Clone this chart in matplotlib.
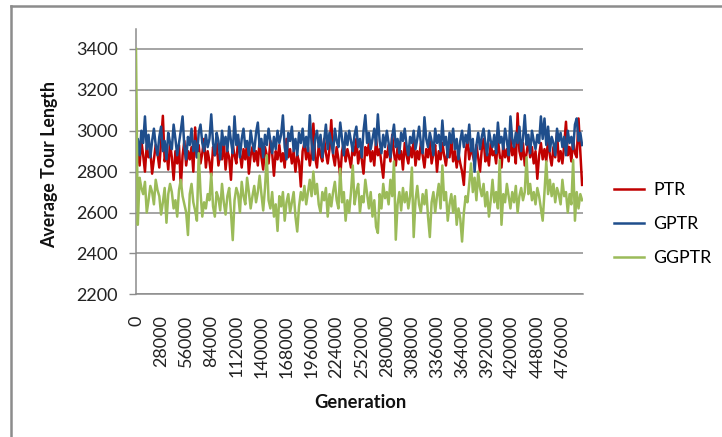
import matplotlib
matplotlib.use("Agg")
import matplotlib.pyplot as plt
from matplotlib.lines import Line2D

# Generation at which each average was recorded
generation = list(range(0, 500000, 2000))

# Average tour length per recorded generation
ptr = [
    2850, 2910, 2830, 2950, 2880, 2800, 2930, 2870, 2900, 2790,
    2860, 2930, 2890, 2820, 2950, 3073, 2850, 2900, 2810, 2940,
    2870, 2760, 2900, 2840, 2930, 2725, 2880, 2950, 2830, 2900,
    2860, 2920, 2800, 3016, 2870, 2930, 2840, 2890, 2960, 2820,
    2900, 2850, 2780, 2920, 2880, 2940, 2830, 2890, 2860, 2950,
    2810, 2900, 2870, 2760, 2930, 2880, 2840, 2960, 2890, 2820,
    2910, 2860, 2940, 2790, 2880, 2920, 2850, 2900, 2830, 2960,
    2870, 2810, 2920, 2880, 2840, 2950, 2890, 2780, 2900, 2860,
    2930, 2850, 2890, 2820, 2960, 2870, 2910, 2840, 2900, 2800,
    2880, 2850, 2727, 2900, 2940, 2860, 2920, 2830, 2890, 3035,
    2870, 2820, 2930, 2880, 2850, 2960, 2890, 2840, 2910, 3052,
    2880, 2830, 2920, 2860, 2775, 2900, 2940, 2850, 2910, 2870,
    2820, 2930, 2880, 2960, 2840, 2900, 2860, 2790, 2920, 2880,
    2940, 2850, 2900, 2830, 2960, 2880, 2910, 2840, 2770, 2900,
    2870, 2930, 2850, 2980, 2890, 2830, 2920, 2860, 2900, 2810,
    2940, 2880, 2840, 2920, 2870, 2960, 2830, 2900, 2860, 2940,
    2880, 2820, 2910, 2870, 2950, 2840, 2890, 2930, 2800, 2900,
    2860, 2940, 2880, 2830, 2910, 2870, 2960, 2850, 2900, 2820,
    2890, 2840, 2800, 2735, 2900, 2950, 2860, 2920, 2880, 2840,
    2930, 2870, 2800, 2910, 2960, 2850, 2890, 2830, 2940, 2880,
    2900, 2840, 2960, 2880, 2820, 2930, 2870, 2910, 2850, 2980,
    2880, 2920, 2840, 3085, 2900, 2860, 2940, 2830, 2890, 2950,
    2870, 2920, 2840, 2900, 2765, 2880, 2940, 2860, 2910, 2850,
    2960, 2880, 2830, 2920, 2870, 2990, 2850, 2900, 2840, 2930,
    3044, 2880, 2920, 2850, 2960, 2890, 2870, 3060, 2900, 2735,
]

gptr = [
    2900, 2960, 2880, 3000, 2940, 3070, 2910, 2980, 2870, 2950,
    3010, 2930, 2880, 2970, 3020, 2900, 2950, 2860, 2990, 2940,
    2910, 3030, 2960, 2880, 2940, 3000, 3070, 2920, 2860, 2970,
    2930, 3010, 2900, 2950, 2870, 2990, 3030, 2940, 2900, 2980,
    2920, 2960, 3080, 2940, 2880, 2990, 2950, 2860, 3000, 2930,
    2970, 2900, 3020, 2950, 2890, 3070, 2930, 2980, 2870, 2960,
    3010, 2920, 2950, 2880, 3000, 2940, 2900, 2990, 3040, 2920,
    2960, 2870, 2980, 2930, 3010, 2950, 2890, 2970, 2910, 3000,
    2940, 2980, 3075, 2920, 2860, 2990, 2950, 3020, 2900, 2960,
    2880, 2990, 2940, 3010, 2920, 2970, 2900, 3076, 2940, 2857,
    2960, 3000, 2920, 2980, 2870, 2950, 3030, 2910, 2990, 2940,
    2890, 3010, 2950, 2920, 3040, 2960, 2880, 2990, 2930, 3000,
    2950, 2900, 2980, 3020, 2920, 2960, 2870, 3000, 3076, 2940,
    2990, 2910, 2960, 3010, 2930, 3080, 2950, 2890, 2980, 2920,
    3000, 2940, 2870, 2970, 3030, 2920, 2960, 2890, 2990, 2950,
    3010, 2930, 2880, 2970, 2940, 3000, 2910, 2960, 3020, 2940,
    2890, 3066, 2960, 2920, 2990, 2950, 2880, 3010, 2940, 2980,
    2900, 3050, 2930, 2970, 2870, 2990, 2940, 3010, 2910, 2960,
    2860, 2950, 3000, 2920, 2980, 2940, 3030, 2900, 2960, 2800,
    2930, 2990, 2910, 2970, 3010, 2940, 2880, 3000, 2950, 2920,
    2980, 2890, 3040, 2940, 2970, 2910, 3010, 2950, 2880, 3070,
    2960, 2920, 2990, 2940, 3020, 2900, 2960, 3076, 2930, 2980,
    2890, 3000, 2950, 2910, 2980, 2940, 3070, 2960, 3060, 2930,
    3020, 2900, 2970, 2940, 2880, 3010, 2950, 2990, 2920, 2970,
    2880, 3000, 2940, 2970, 2910, 3030, 3060, 2950, 2990, 2930,
]

ggptr = [
    3400, 2540, 2770, 2720, 2690, 2750, 2600, 2660, 2730, 2700,
    2640, 2760, 2710, 2680, 2590, 2650, 2720, 2550, 2690, 2740,
    2700, 2620, 2660, 2580, 2710, 2760, 2680, 2640, 2600, 2490,
    2690, 2740, 2650, 2610, 2560, 2890, 2700, 2580, 2650, 2620,
    2690, 2660, 2790, 2630, 2580, 2700, 2670, 2610, 2740, 2650,
    2590, 2680, 2720, 2600, 2465, 2660, 2720, 2690, 2600, 2750,
    2680, 2640, 2770, 2700, 2620, 2680, 2730, 2650, 2700, 2780,
    2690, 2610, 2720, 2880, 2660, 2620, 2700, 2580, 2640, 2510,
    2680, 2630, 2700, 2560, 2650, 2690, 2600, 2650, 2700, 2580,
    2507, 2630, 2700, 2660, 2730, 2640, 2700, 2760, 2680, 2800,
    2690, 2740, 2640, 2600, 2700, 2660, 2720, 2580, 2690, 2630,
    2700, 2750, 2660, 2620, 2815, 2650, 2700, 2560, 2660, 2600,
    2700, 2830, 2640, 2700, 2740, 2600, 2680, 2650, 2760, 2690,
    2620, 2700, 2580, 2660, 2530, 2500, 2690, 2620, 2740, 2670,
    2700, 2640, 2760, 2680, 2850, 2467, 2640, 2700, 2610, 2720,
    2650, 2700, 2620, 2680, 2820, 2480, 2660, 2730, 2640, 2600,
    2690, 2640, 2710, 2580, 2480, 2650, 2700, 2600, 2680, 2740,
    2620, 2830, 2660, 2700, 2560, 2640, 2690, 2600, 2680, 2540,
    2620, 2570, 2458, 2600, 2680, 2650, 2740, 2840, 2700, 2770,
    2660, 2800, 2720, 2680, 2740, 2630, 2700, 2580, 2660, 2760,
    2650, 2700, 2620, 2857, 2540, 2690, 2650, 2740, 2680, 2620,
    2700, 2650, 2730, 2600, 2680, 2720, 2660, 2700, 2870, 2690,
    2740, 2660, 2700, 2640, 2720, 2680, 2620, 2560, 2700, 2850,
    2690, 2760, 2680, 2740, 2650, 2720, 2690, 2640, 2760, 2680,
    2700, 2600, 2690, 2640, 2857, 2560, 2700, 2620, 2690, 2660,
]

y_ticks = [2200, 2400, 2600, 2800, 3000, 3200, 3400]
x_ticks = list(range(0, 476001, 28000))

plt.rcParams['font.family'] = ['Lato', 'DejaVu Sans']

W, H = 722, 437
fig = plt.figure(figsize=(W / 100, H / 100), dpi=100)
fig.patch.set_facecolor('white')

# plot area in pixel terms: x 136..583, y 28.5..294.3 (from top)
ax = fig.add_axes([136 / W, 1 - 294.3 / H, 447 / W, (294.3 - 28.5) / H])

ax.plot(generation, ptr, color='#C00000', lw=1.8, label='PTR', zorder=3)
ax.plot(generation, gptr, color='#1F4E8C', lw=1.8, label='GPTR', zorder=4)
ax.plot(generation, ggptr, color='#9BBB59', lw=1.8, label='GGPTR', zorder=5)

ax.set_xlim(0, 499000)
ax.set_ylim(2200, 3500)

grid_col = '#8C8C8C'
ax.set_yticks(y_ticks)
ax.set_yticklabels([str(v) for v in y_ticks], fontsize=13, color='#222222')
ax.yaxis.grid(True, color=grid_col, lw=1.1, zorder=0)
ax.set_axisbelow(True)

ax.set_xticks(x_ticks)
ax.set_xticklabels([str(v) for v in x_ticks], rotation=90, fontsize=13,
                   color='#222222', va='top', ha='center')

ax.tick_params(axis='x', length=0, pad=15)
ax.tick_params(axis='y', length=5, width=1, color=grid_col, pad=8)

for side in ('top', 'right'):
    ax.spines[side].set_visible(False)
for side in ('left', 'bottom'):
    ax.spines[side].set_color(grid_col)
    ax.spines[side].set_linewidth(1.1)

fig.text(50 / W, 1 - 164 / H, 'Average Tour Length', rotation=90,
         ha='center', va='center', fontsize=12.8, fontweight='bold',
         color='#111111')
fig.text(360 / W, 1 - 403 / H, 'Generation', ha='center', va='center',
         fontsize=13.2, fontweight='bold', color='#111111')

fig.legend(loc='center left', bbox_to_anchor=(598 / W, 1 - 224 / H),
           frameon=False, fontsize=12.8, handlelength=1.7,
           handletextpad=0.5, labelspacing=1.0)

# outer chart border (left and top edges)
border = '#8C8C8C'
fig.add_artist(Line2D([11 / W, 11 / W], [0, 1 - 6 / H],
                      transform=fig.transFigure, color=border, lw=1.8))
fig.add_artist(Line2D([11 / W, 721 / W], [1 - 6 / H, 1 - 6 / H],
                      transform=fig.transFigure, color=border, lw=1.8))

fig.savefig('out.png', dpi=100, facecolor='white')
